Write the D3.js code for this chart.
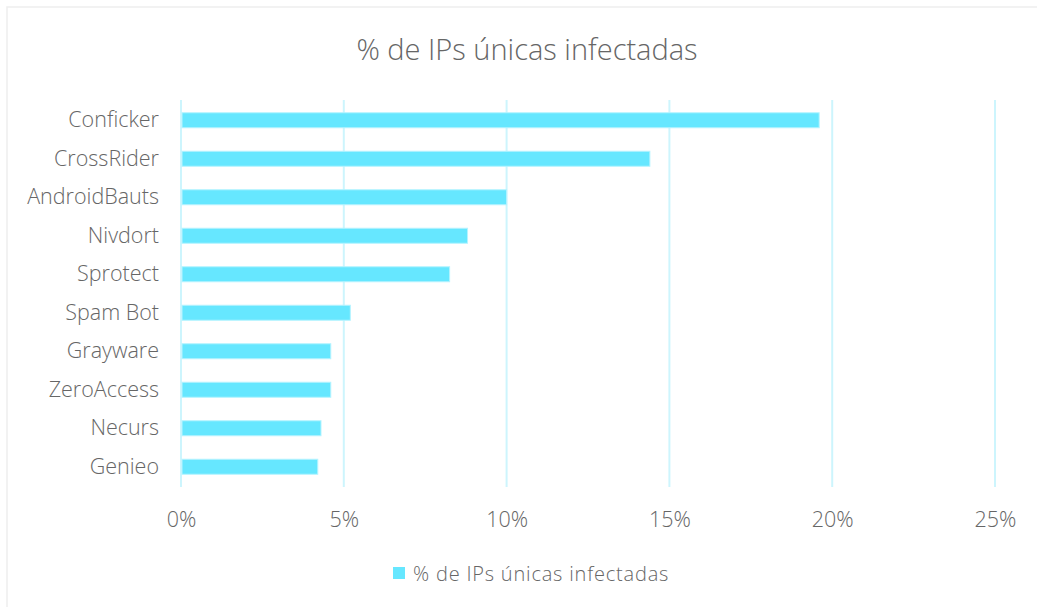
<!DOCTYPE html>
<meta charset="utf-8">
<script src="https://d3js.org/d3.v7.min.js"></script>
<style>
  body { margin: 0; background: #fff; }
  text { font-family: "Open Sans", "Lato", sans-serif; font-weight: 300; fill: #666; }
</style>
<div id="my_dataviz"></div>
<script>
// data
var categories = ["Conficker", "CrossRider", "AndroidBauts", "Nivdort", "Sprotect",
                  "Spam Bot", "Grayware", "ZeroAccess", "Necurs", "Genieo"];
var values = [19.6, 14.4, 10.0, 8.8, 8.25, 5.2, 4.6, 4.6, 4.3, 4.2];
var xTicks = [0, 5, 10, 15, 20, 25];
var chartTitle = "% de IPs únicas infectadas";
var seriesName = "% de IPs únicas infectadas";

var W = 1037, H = 607;
var margin = {top: 101, left: 181, right: W - 995, bottom: H - 486};

var svg = d3.select("#my_dataviz")
  .append("svg")
    .attr("width", W)
    .attr("height", H);

// outer chart frame
svg.append("rect")
    .attr("x", 7).attr("y", 7)
    .attr("width", W + 20).attr("height", H + 20)
    .attr("fill", "none")
    .attr("stroke", "#eeeeee")
    .attr("stroke-width", 1.5);

var x = d3.scaleLinear()
    .domain([0, 25])
    .range([margin.left, W - margin.right]);

var y = d3.scaleBand()
    .domain(categories)
    .range([margin.top, H - margin.bottom])
    .paddingInner(0.61)
    .paddingOuter(0.305);

// vertical gridlines
svg.append("g")
  .selectAll("line")
  .data(xTicks)
  .enter()
  .append("line")
    .attr("x1", function(d) { return x(d); })
    .attr("x2", function(d) { return x(d); })
    .attr("y1", margin.top - 1)
    .attr("y2", H - margin.bottom + 1)
    .attr("stroke", "#cdf5fd")
    .attr("stroke-width", 2);

// bars
svg.append("g")
  .selectAll("rect")
  .data(values)
  .enter()
  .append("rect")
    .attr("x", x(0) + 1)
    .attr("y", function(d, i) { return y(categories[i]); })
    .attr("width", function(d) { return x(d) - x(0) - 1; })
    .attr("height", y.bandwidth())
    .attr("fill", "#66e7ff")
    .attr("stroke", "#b5f3ff")
    .attr("stroke-width", 1);

// x axis labels
var xAxis = d3.axisBottom(x)
    .tickValues(xTicks)
    .tickFormat(function(d) { return d + "%"; })
    .tickSize(0)
    .tickPadding(0);
var gx = svg.append("g")
    .attr("transform", "translate(0," + (H - margin.bottom + 26) + ")")
    .call(xAxis);
gx.select(".domain").remove();
gx.selectAll("text")
    .style("font-size", "21.5px")
    .attr("fill", "#666");

// y axis labels
var yAxis = d3.axisLeft(y).tickSize(0).tickPadding(22);
var gy = svg.append("g")
    .attr("transform", "translate(" + margin.left + ",0)")
    .call(yAxis);
gy.select(".domain").remove();
gy.selectAll("text")
    .style("font-size", "21.5px")
    .attr("fill", "#666");

// title
svg.append("text")
    .attr("x", 527)
    .attr("y", 60)
    .attr("text-anchor", "middle")
    .style("font-size", "29px")
    .text(chartTitle);

// legend
svg.append("rect")
    .attr("x", 393).attr("y", 567)
    .attr("width", 12).attr("height", 12)
    .attr("fill", "#66e7ff");
svg.append("text")
    .attr("x", 413)
    .attr("y", 581)
    .style("font-size", "20px")
    .style("letter-spacing", "0.8px")
    .text(seriesName);
</script>
